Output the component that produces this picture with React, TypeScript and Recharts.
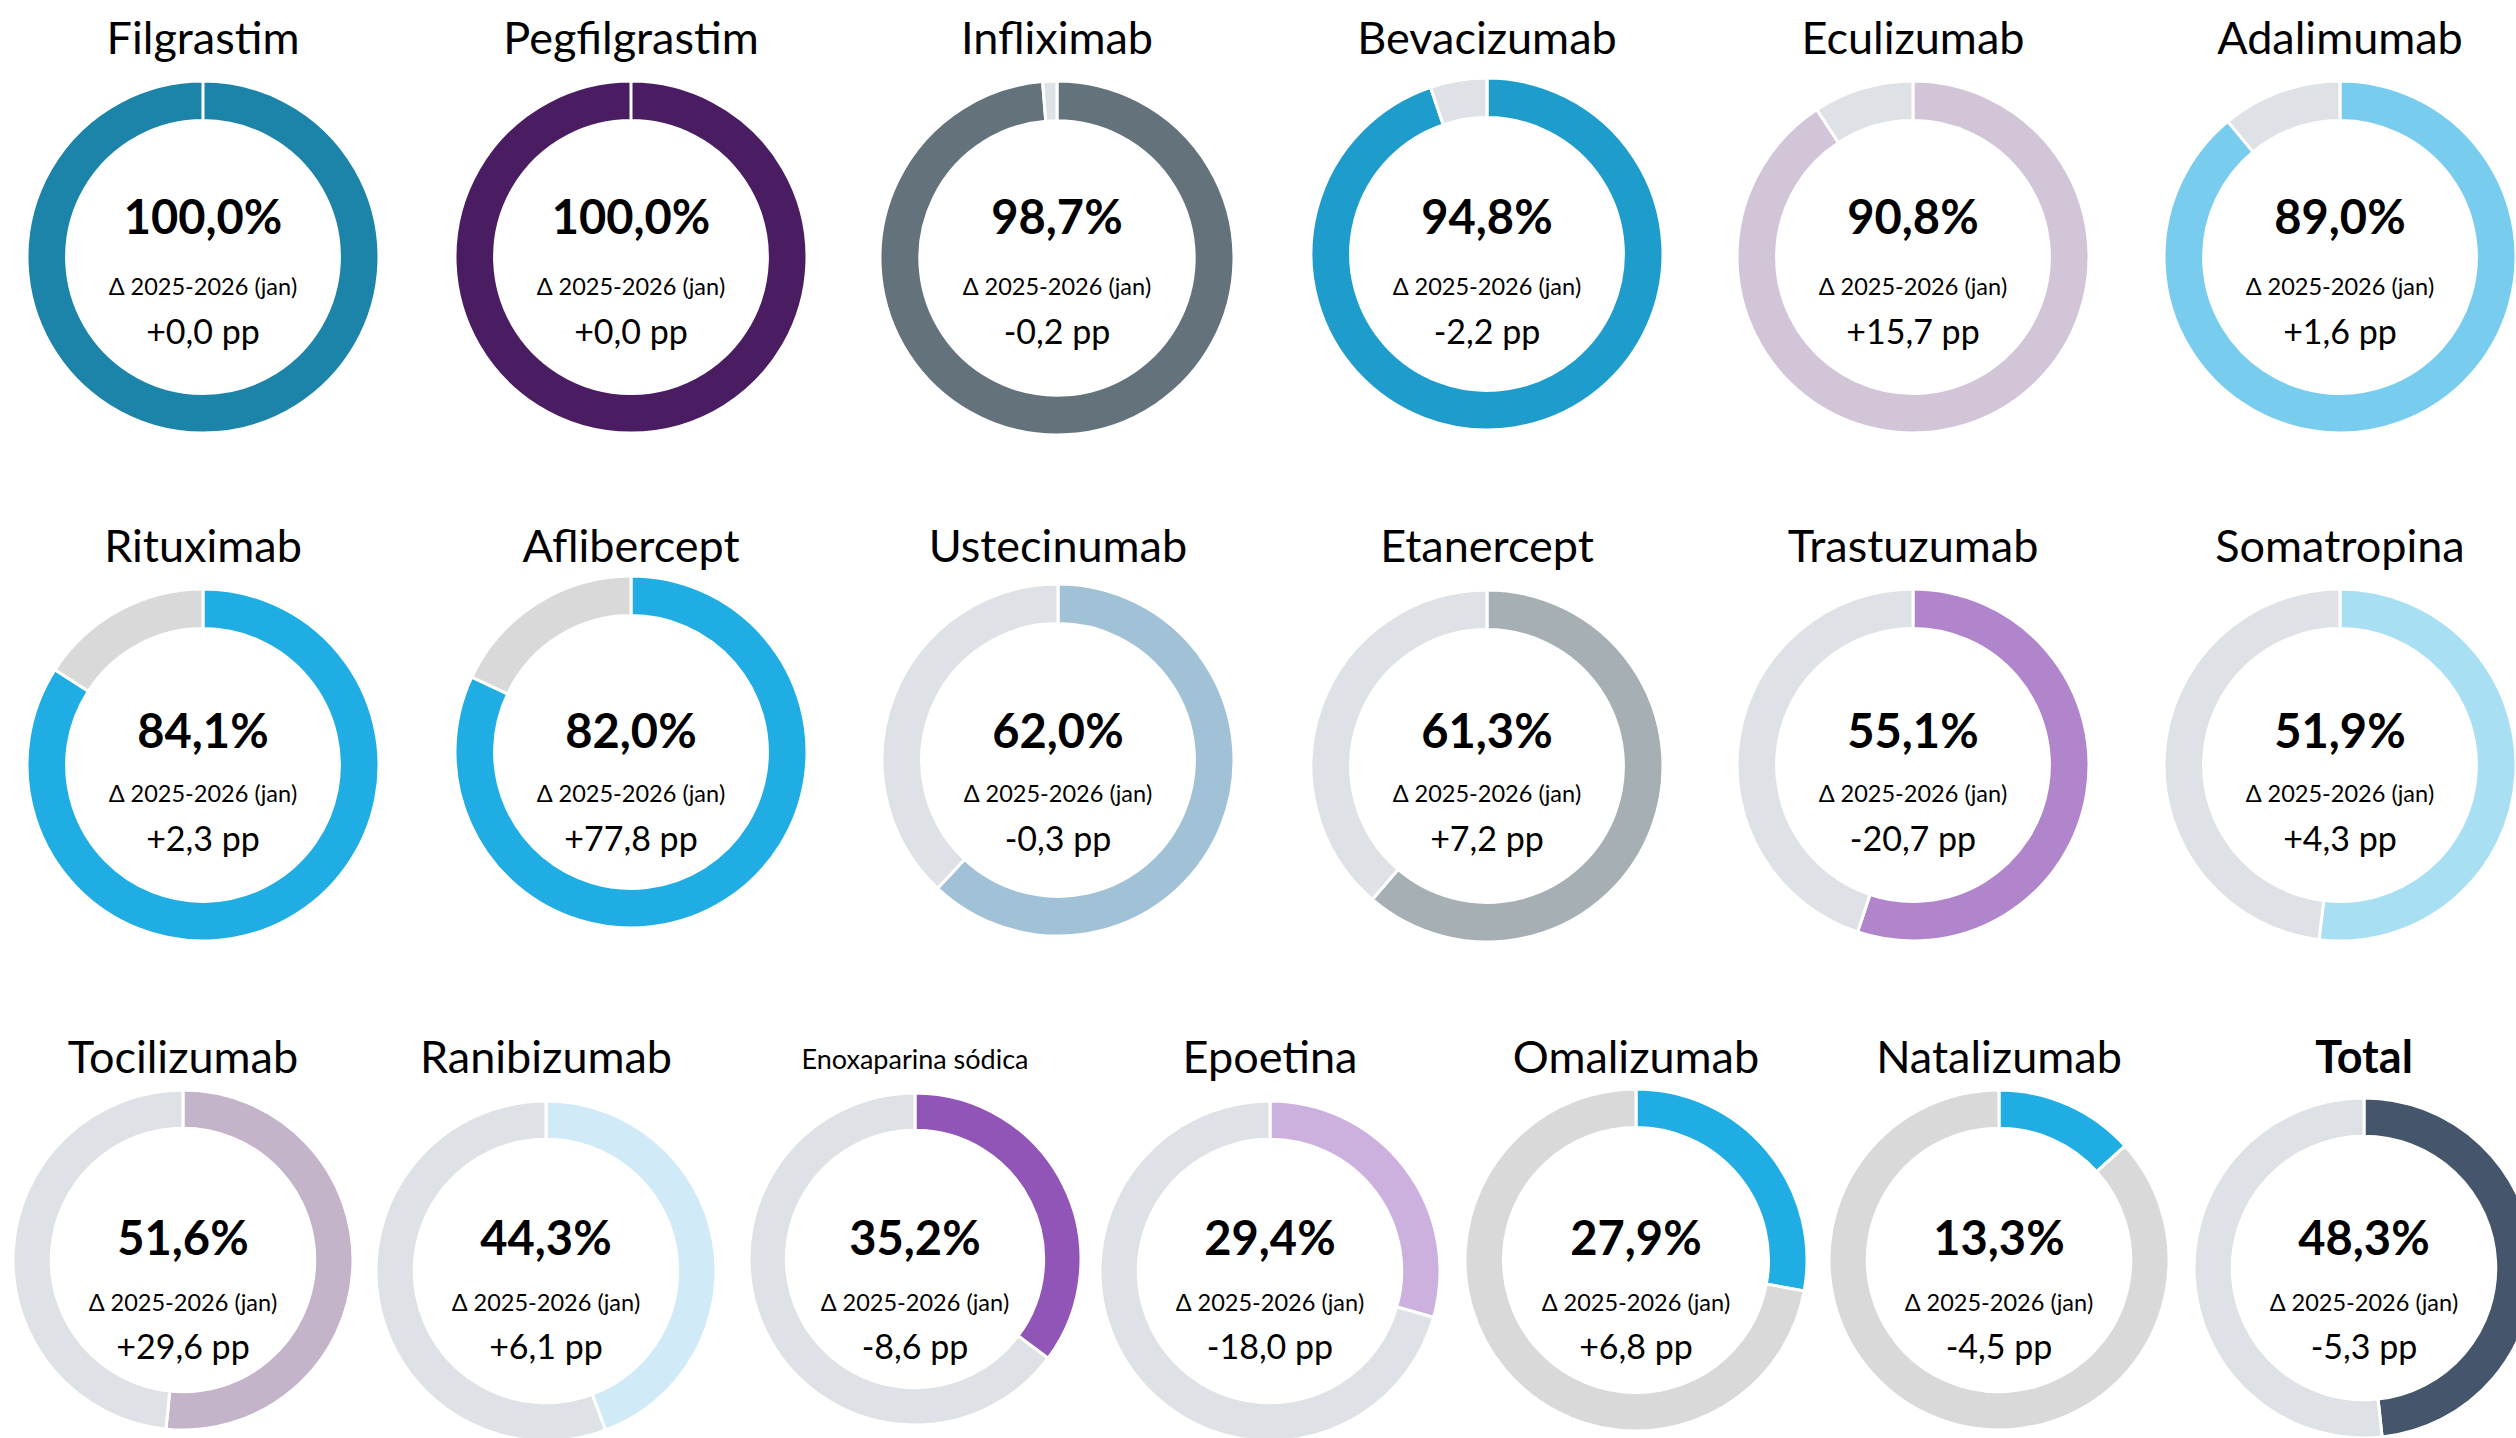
import { PieChart, Pie, Cell } from "recharts";

const W = 2516;
const H = 1438;

// data
const drugs = [
  "Filgrastim", "Pegfilgrastim", "Infliximab", "Bevacizumab", "Eculizumab", "Adalimumab",
  "Rituximab", "Aflibercept", "Ustecinumab", "Etanercept", "Trastuzumab", "Somatropina",
  "Tocilizumab", "Ranibizumab", "Enoxaparina sódica", "Epoetina", "Omalizumab", "Natalizumab",
  "Total",
];
const shares = [
  100.0, 100.0, 98.7, 94.8, 90.8, 89.0,
  84.1, 82.0, 62.0, 61.3, 55.1, 51.9,
  51.6, 44.3, 35.2, 29.4, 27.9, 13.3,
  48.3,
];
const deltas = [
  0.0, 0.0, -0.2, -2.2, 15.7, 1.6,
  2.3, 77.8, -0.3, 7.2, -20.7, 4.3,
  29.6, 6.1, -8.6, -18.0, 6.8, -4.5,
  -5.3,
];
const periodLabel = "Δ 2025-2026 (jan)";

// colours
const fills = [
  "#1B84A8", "#4A1D62", "#64737B", "#1E9CCB", "#D2C5D8", "#78CCEE",
  "#1FADE3", "#1FADE3", "#A1C1D6", "#A6B0B4", "#B085CB", "#A8DFF3",
  "#C4B4C9", "#D0EBF7", "#9155B7", "#CCB1DE", "#1FADE3", "#1FADE3",
  "#45556B",
];
const GREY = "#DEE2E6";
const GREY2 = "#D9D9D9";
const restFills = [
  GREY, GREY, GREY, GREY, GREY, GREY,
  GREY2, GREY2, GREY, GREY, GREY, GREY,
  GREY, GREY, GREY, GREY, GREY2, GREY2,
  GREY,
];

// layout (pixel centres / radii of each ring, row for text lines)
const layout = [
  { cx: 203, cy: 257, r: 176, row: 0 },
  { cx: 631, cy: 257, r: 176, row: 0 },
  { cx: 1057, cy: 258, r: 177, row: 0 },
  { cx: 1487, cy: 254, r: 176, row: 0 },
  { cx: 1913, cy: 257, r: 176, row: 0 },
  { cx: 2340, cy: 257, r: 176, row: 0 },
  { cx: 203, cy: 765, r: 176, row: 1 },
  { cx: 631, cy: 752, r: 176, row: 1 },
  { cx: 1058, cy: 760, r: 176, row: 1 },
  { cx: 1487, cy: 766, r: 176, row: 1 },
  { cx: 1913, cy: 765, r: 176, row: 1 },
  { cx: 2340, cy: 765, r: 176, row: 1 },
  { cx: 183, cy: 1260, r: 170, row: 2 },
  { cx: 546, cy: 1271, r: 170, row: 2 },
  { cx: 915, cy: 1259, r: 166, row: 2 },
  { cx: 1270, cy: 1271, r: 170, row: 2 },
  { cx: 1636, cy: 1260, r: 171, row: 2 },
  { cx: 1999, cy: 1260, r: 170, row: 2 },
  { cx: 2364, cy: 1268, r: 170, row: 2 },
];

const rowText = [
  { title: 37, pct: 216, delta: 287, pp: 331 },
  { title: 545, pct: 730, delta: 794, pp: 838 },
  { title: 1056, pct: 1237, delta: 1303, pp: 1346 },
];

const FONT = "Lato, 'Open Sans', sans-serif";

const fmt = (v: number) => v.toFixed(1).replace(".", ",");
const fmtDelta = (v: number) => (v < 0 ? "-" : "+") + fmt(Math.abs(v)) + " pp";

function TextAt({
  x,
  y,
  size,
  weight = 400,
  children,
}: {
  x: number;
  y: number;
  size: number;
  weight?: number;
  children: React.ReactNode;
}) {
  return (
    <div
      style={{
        position: "absolute",
        left: x,
        top: y,
        transform: "translate(-50%, -50%)",
        fontSize: size,
        fontWeight: weight,
        lineHeight: 1,
        whiteSpace: "pre",
        color: "#000",
      }}
    >
      {children}
    </div>
  );
}

export default function App() {
  return (
    <div
      style={{
        position: "absolute",
        left: 0,
        top: 0,
        width: W,
        height: H,
        overflow: "hidden",
        background: "#fff",
        fontFamily: FONT,
      }}
    >
      <PieChart width={W} height={H} margin={{ top: 0, right: 0, bottom: 0, left: 0 }}>
        {drugs.map((name, i) => (
          <Pie
            key={name}
            data={[
              { name, value: shares[i] },
              { name: "Resto", value: 100 - shares[i] },
            ]}
            dataKey="value"
            cx={layout[i].cx}
            cy={layout[i].cy}
            outerRadius={layout[i].r}
            innerRadius={layout[i].r * 0.775}
            startAngle={90}
            endAngle={-270}
            stroke="#fff"
            strokeWidth={3}
            isAnimationActive={false}
          >
            <Cell fill={fills[i]} />
            <Cell fill={restFills[i]} />
          </Pie>
        ))}
      </PieChart>

      {drugs.map((name, i) => {
        const { cx, row } = layout[i];
        const t = rowText[row];
        const isTotal = name === "Total";
        const isSmall = name.length > 14;
        return (
          <div key={name}>
            <TextAt x={cx} y={isSmall ? t.title + 2 : t.title} size={isSmall ? 27 : 45} weight={isTotal ? 700 : 400}>
              {name}
            </TextAt>
            <TextAt x={cx} y={t.pct} size={47} weight={700}>
              {fmt(shares[i]) + "%"}
            </TextAt>
            <TextAt x={cx} y={t.delta} size={23.5}>
              {periodLabel}
            </TextAt>
            <TextAt x={cx} y={t.pp} size={34}>
              {fmtDelta(deltas[i])}
            </TextAt>
          </div>
        );
      })}
    </div>
  );
}
